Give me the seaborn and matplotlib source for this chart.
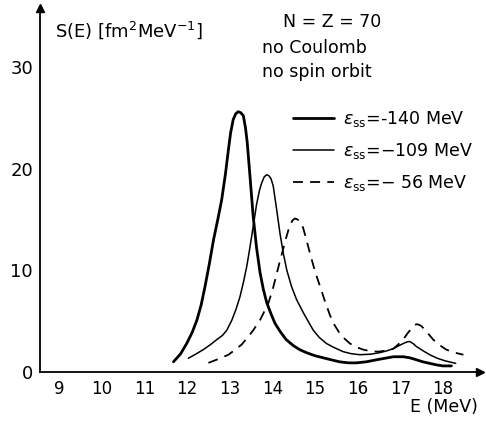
import matplotlib
matplotlib.use("Agg")
import matplotlib.pyplot as plt
import seaborn as sns
import pandas as pd
from matplotlib.lines import Line2D

# ---- data ----
e_140 = [11.68, 11.85, 11.99, 12.12, 12.23, 12.33, 12.42, 12.52, 12.62, 12.72, 12.81,
         12.9, 12.97, 13.02, 13.08, 13.14, 13.2, 13.26, 13.32, 13.37, 13.41, 13.48,
         13.55, 13.63, 13.71, 13.79, 13.87, 13.97, 14.06, 14.18, 14.32, 14.49, 14.64,
         14.8, 15.0, 15.19, 15.38, 15.58, 15.78, 15.97, 16.2, 16.44, 16.64, 16.84,
         17.07, 17.22, 17.38, 17.53, 17.69, 17.85, 18.0, 18.2]
s_140 = [1.0, 1.8, 2.8, 3.9, 5.1, 6.6, 8.4, 10.6, 13.0, 15.0, 16.9,
         19.5, 21.9, 23.5, 24.8, 25.4, 25.6, 25.5, 25.2, 24.0, 22.6, 19.0,
         15.3, 12.2, 9.8, 8.1, 6.8, 5.7, 4.8, 4.0, 3.2, 2.6, 2.2,
         1.9, 1.6, 1.4, 1.2, 1.0, 0.9, 0.9, 1.0, 1.2, 1.35, 1.5,
         1.5, 1.4, 1.2, 1.0, 0.85, 0.7, 0.6, 0.6]

e_109 = [12.03, 12.2, 12.38, 12.55, 12.7, 12.83, 12.93, 13.05, 13.15, 13.24, 13.32,
         13.4, 13.46, 13.52, 13.58, 13.63, 13.7, 13.75, 13.81, 13.87, 13.92, 13.97,
         14.02, 14.1, 14.18, 14.26, 14.34, 14.45, 14.57, 14.73, 14.96, 15.1, 15.27,
         15.45, 15.66, 15.85, 16.05, 16.3, 16.52, 16.7, 16.84, 16.95, 17.07, 17.15,
         17.22, 17.3, 17.38, 17.53, 17.69, 17.87, 18.05, 18.3]
s_109 = [1.35, 1.75, 2.2, 2.7, 3.2, 3.6, 4.1, 5.1, 6.2, 7.4, 8.8,
         10.4, 11.9, 13.5, 15.1, 16.5, 17.9, 18.6, 19.2, 19.4, 19.3, 19.0,
         18.3, 16.0, 13.6, 11.6, 10.0, 8.4, 7.1, 5.8, 4.1, 3.4, 2.8,
         2.4, 2.0, 1.8, 1.7, 1.75, 1.9, 2.1, 2.3, 2.55, 2.8, 2.95,
         3.0, 2.8, 2.5, 2.1, 1.7, 1.35, 1.1, 0.85]

e_56 = [12.5, 12.75, 12.97, 13.13, 13.28, 13.42, 13.55, 13.71, 13.9, 14.0, 14.08,
        14.17, 14.26, 14.33, 14.4, 14.47, 14.53, 14.59, 14.65, 14.72, 14.78, 14.9,
        15.0, 15.12, 15.23, 15.35, 15.46, 15.58, 15.7, 15.82, 15.97, 16.13, 16.3,
        16.48, 16.66, 16.84, 16.95, 17.07, 17.17, 17.27, 17.33, 17.38, 17.44, 17.5,
        17.63, 17.77, 17.92, 18.08, 18.28, 18.48]
s_56 = [0.9, 1.3, 1.7, 2.2, 2.7, 3.4, 4.1, 5.1, 6.7, 8.0, 9.3,
        10.8, 12.2, 13.3, 14.3, 14.9, 15.1, 15.0, 14.8, 14.2, 13.3, 11.4,
        9.9, 8.4, 7.0, 5.6, 4.6, 3.8, 3.25, 2.8, 2.45, 2.2, 2.05,
        2.0, 2.1, 2.3, 2.7, 3.2, 3.8, 4.3, 4.6, 4.7, 4.65, 4.5,
        3.9, 3.2, 2.65, 2.2, 1.9, 1.7]

labels = [r"$\varepsilon_{\rm ss}$=-140 MeV",
          r"$\varepsilon_{\rm ss}$=−109 MeV",
          r"$\varepsilon_{\rm ss}$=− 56 MeV"]
x_ticks = [9, 10, 11, 12, 13, 14, 15, 16, 17, 18]
y_ticks = [0, 10, 20, 30]

sns.set_style("white")
plt.rcParams["font.family"] = ["DejaVu Sans"]
plt.rcParams["mathtext.fontset"] = "dejavusans"
plt.rcParams["text.color"] = "black"
plt.rcParams["xtick.color"] = "black"
plt.rcParams["ytick.color"] = "black"

W, H = 486, 423
fig = plt.figure(figsize=(W / 100, H / 100), dpi=100)
ax = fig.add_axes([40 / W, 1 - 372 / H, (480 - 40) / W, (372 - 8) / H])

df140 = pd.DataFrame({"E": e_140, "S": s_140})
df109 = pd.DataFrame({"E": e_109, "S": s_109})
df56 = pd.DataFrame({"E": e_56, "S": s_56})

dash = (0, (5.5, 4))
sns.lineplot(data=df140, x="E", y="S", ax=ax, color="black", lw=2.0, sort=False)
sns.lineplot(data=df109, x="E", y="S", ax=ax, color="black", lw=1.1, sort=False)
sns.lineplot(data=df56, x="E", y="S", ax=ax, color="black", lw=1.3, sort=False,
             linestyle=dash)

ax.set_xlim(8.55, 18.87)
ax.set_ylim(0, 35.8)
ax.set_xticks(x_ticks)
ax.set_xticklabels([str(t) for t in x_ticks], fontsize=12)
ax.set_yticks(y_ticks)
ax.set_yticklabels([str(t) for t in y_ticks], fontsize=13)
ax.tick_params(direction="in", length=4, width=1, colors="black", pad=6)
ax.tick_params(axis="y", pad=5)
ax.set_xlabel("")
ax.set_ylabel("")
for s in ["top", "right"]:
    ax.spines[s].set_visible(False)
for s in ["left", "bottom"]:
    ax.spines[s].set_color("black")
    ax.spines[s].set_linewidth(1.3)
ax.plot([1], [0], ">", color="black", ms=6, transform=ax.transAxes, clip_on=False)
ax.plot([0], [1], "^", color="black", ms=6, transform=ax.transAxes, clip_on=False)

def ftext(x, y, s, **kw):
    fig.text(x / W, 1 - y / H, s, color="black", **kw)

ftext(55, 30, r"S(E) [fm$^2$MeV$^{-1}$]", fontsize=13, va="center", ha="left")
ftext(283, 22, "N = Z = 70", fontsize=12.5, va="center", ha="left")
ftext(262, 48, "no Coulomb", fontsize=12.5, va="center", ha="left")
ftext(262, 72, "no spin orbit", fontsize=12.5, va="center", ha="left")
ftext(478, 407, "E (MeV)", fontsize=12.5, va="center", ha="right")

handles = [Line2D([], [], color="black", lw=2.0),
           Line2D([], [], color="black", lw=1.1),
           Line2D([], [], color="black", lw=1.3, linestyle=dash)]
leg = ax.legend(handles, labels, loc="upper left", bbox_to_anchor=(284 / W, 1 - 100 / H),
                bbox_transform=fig.transFigure, frameon=False, fontsize=12.5,
                handlelength=2.4, handletextpad=0.5, labelspacing=0.7, borderpad=0)
for t in leg.get_texts():
    t.set_color("black")

fig.savefig("out.png", dpi=100)
